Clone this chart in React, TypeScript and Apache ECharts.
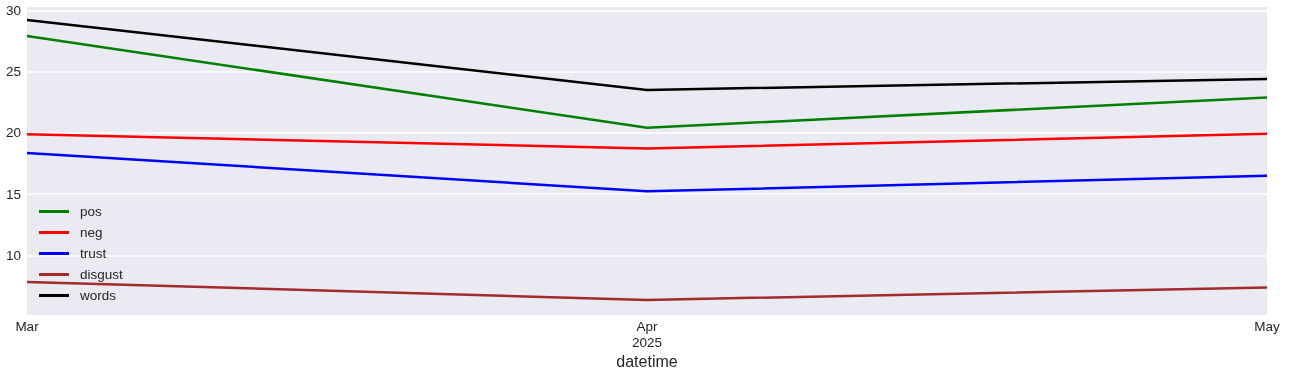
import React, { useEffect, useRef } from "react";
import * as echarts from "echarts";

const categories = ["Mar", "Apr", "May"];
const categoryLabels = ["Mar", "Apr\n2025", "May"];
const pos = [27.93, 20.42, 22.91];
const neg = [19.89, 18.74, 19.93];
const trust = [18.37, 15.23, 16.5];
const disgust = [7.82, 6.35, 7.37];
const words = [29.24, 23.52, 24.42];
const yTicks = [10, 15, 20, 25, 30];

const seriesDefs = [
  { name: "pos", data: pos, color: "#008000" },
  { name: "neg", data: neg, color: "#FF0000" },
  { name: "trust", data: trust, color: "#0000FF" },
  { name: "disgust", data: disgust, color: "#A52A2A" },
  { name: "words", data: words, color: "#000000" },
];

const FONT = "'Liberation Sans', Arial, sans-serif";

export default function App() {
  const ref = useRef<HTMLDivElement>(null);
  useEffect(() => {
    if (!ref.current) return;
    const chart = echarts.init(ref.current, undefined, { renderer: "svg" });
    chart.setOption({
      animation: false,
      textStyle: { fontFamily: FONT },
      grid: {
        left: 27,
        right: 41,
        top: 7,
        bottom: 54,
        show: true,
        backgroundColor: "#EAEAF2",
        borderWidth: 0,
        outerBoundsMode: "none",
        containLabel: false,
      },
      legend: {
        orient: "vertical",
        left: 39,
        top: 201,
        padding: 0,
        itemWidth: 30,
        itemHeight: 3,
        itemGap: 0,
        icon: "rect",
        data: seriesDefs.map((s) => s.name),
        textStyle: { fontSize: 13.5, color: "#262626", lineHeight: 21, fontFamily: FONT, padding: [0, 0, 0, 6] },
      },
      xAxis: {
        type: "category",
        data: categories,
        boundaryGap: false,
        name: "datetime",
        nameLocation: "middle",
        nameGap: 38,
        nameMoveOverlap: false,
        nameTextStyle: { fontSize: 16, color: "#262626", fontFamily: FONT },
        axisLine: { show: false },
        axisTick: { show: false },
        splitLine: { show: false },
        axisLabel: {
          fontSize: 13.5,
          color: "#262626",
          margin: 3,
          lineHeight: 16,
          fontFamily: FONT,
          formatter: (_v: string, i: number) => categoryLabels[i],
        },
      },
      yAxis: {
        type: "value",
        min: 5.12,
        max: 30.3,
        axisLine: { show: false },
        axisTick: { show: false, customValues: yTicks },
        axisLabel: {
          fontSize: 13.5,
          color: "#262626",
          margin: 6,
          fontFamily: FONT,
          customValues: yTicks,
        },
        splitLine: { show: true, lineStyle: { color: "#FFFFFF", width: 1.5 } },
      },
      series: seriesDefs.map((s) => ({
        name: s.name,
        type: "line",
        data: s.data,
        symbol: "none",
        showSymbol: false,
        color: s.color,
        lineStyle: { color: s.color, width: 2.5 },
      })),
    });
    return () => chart.dispose();
  }, []);
  return (
    <div
      ref={ref}
      style={{ position: "fixed", left: 0, top: 0, width: 1308, height: 369 }}
    />
  );
}
